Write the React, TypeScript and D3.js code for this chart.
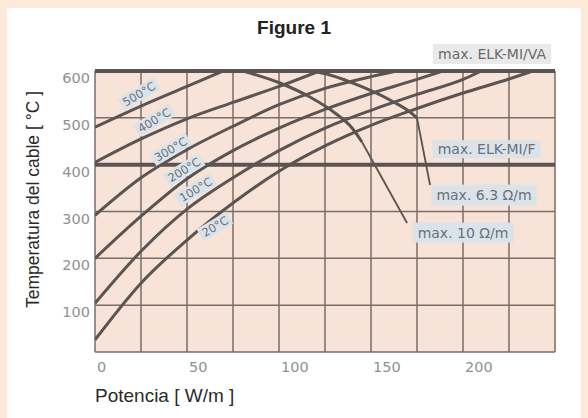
import React from "react";
import * as d3 from "d3";

// ---------- data ----------
const title = "Figure 1";
const xAxisTitle = "Potencia [ W/m ]";
const yAxisTitle = "Temperatura del cable [ °C ]";

const xTickLabels = [0, 50, 100, 150, 200];
const yTickLabels = [100, 200, 300, 400, 500, 600];
const xGridValues = [0, 25, 50, 75, 100, 125, 150, 175, 200, 225, 250];
const yGridValues = [0, 100, 200, 300, 400, 500, 600];

const curveNames = ["500°C", "400°C", "300°C", "200°C", "100°C", "20°C"];
const curve500: [number, number][] = [[0, 480], [25, 525], [50, 567], [69.6, 600]];
const curve400: [number, number][] = [[0, 405], [25, 455], [50, 498], [75, 533], [100, 567], [122, 600]];
const curve300: [number, number][] = [[0, 292], [25, 372], [50, 432], [75, 482], [100, 528], [125, 563], [150, 588], [164, 600]];
const curve200: [number, number][] = [[0, 200], [25, 290], [50, 370], [75, 430], [100, 478], [125, 518], [150, 552], [175, 582], [189, 600]];
const curve100: [number, number][] = [[0, 104], [25, 215], [50, 305], [75, 372], [100, 430], [125, 478], [150, 516], [175, 550], [200, 582], [210, 600]];
const curve20: [number, number][] = [[0, 26], [25, 147], [50, 239], [75, 318], [100, 386], [125, 440], [150, 484], [175, 520], [200, 553], [225, 583], [238, 600]];
const curveLabelPos: [number, number][] = [[23.9, 551], [32.1, 495], [41.1, 433], [48.4, 389], [54.7, 347], [65.2, 268]];

const limitNames = ["max. ELK-MI/VA", "max. ELK-MI/F", "max. 6.3 Ω/m", "max. 10 Ω/m"];
const limitVA = 600;
const limitF = 400;
const limit63: [number, number][] = [[118.5, 600], [127.7, 591.5], [144, 568], [160.3, 538], [171.2, 512.5], [175, 499.7]];
const leader63: [number, number][] = [[175, 499.7], [182.1, 356.6]];
const limit10: [number, number][] = [[80.4, 600], [100.5, 574.4], [116.8, 544.5], [130.4, 510.4], [139.7, 478.3], [145.1, 448.4]];
const leader10: [number, number][] = [[145.1, 448.4], [169.6, 275.5]];
const limitFLabelPos: [number, number] = [212.8, 433];
const limit63LabelPos: [number, number] = [211.4, 335];
const limit10LabelPos: [number, number] = [200, 255];

// ---------- layout ----------
const W = 588, H = 418;
const plot = { left: 95, right: 555, top: 71, bottom: 352 };
const x = d3.scaleLinear().domain([0, 250]).range([plot.left, plot.right]);
const y = d3.scaleLinear().domain([0, 600]).range([plot.bottom, plot.top]);

const line = d3.line<[number, number]>().x(d => x(d[0])).y(d => y(d[1])).curve(d3.curveMonotoneX);
const straight = d3.line<[number, number]>().x(d => x(d[0])).y(d => y(d[1]));

const LINE = "#5a5453";
const GRID = "#7a6d68";
const TICK = "#909090";
const TAGFILL = "#dbe3e9";
const TAGTEXT = "#66727c";
const SANS = "'DejaVu Sans', Verdana, sans-serif";
const ARIAL = "'Liberation Sans', Arial, sans-serif";

function Tag({ cx, cy, text, size, padX, h, rotate = 0, fill = TAGFILL, color = TAGTEXT }: any) {
  const ref = React.useRef<SVGTextElement>(null);
  const [w, setW] = React.useState(0);
  React.useLayoutEffect(() => {
    if (ref.current) setW(ref.current.getBBox().width);
  }, [text, size]);
  const bw = w + 2 * padX;
  return (
    <g transform={`translate(${cx},${cy}) rotate(${rotate})`}>
      {w > 0 && <rect x={-bw / 2} y={-h / 2} width={bw} height={h} fill={fill} />}
      <text ref={ref} x={0} y={size * 0.36} textAnchor="middle" fontSize={size} fill={color} fontFamily={SANS}>
        {text}
      </text>
    </g>
  );
}

export default function App() {
  const curves = [curve500, curve400, curve300, curve200, curve100, curve20];
  return (
    <div style={{ position: "absolute", left: 0, top: 0 }}>
      <svg width={W} height={H} style={{ display: "block" }}>
        <defs>
          <clipPath id="plotclip">
            <rect x={plot.left} y={plot.top} width={plot.right - plot.left} height={plot.bottom - plot.top} />
          </clipPath>
        </defs>
        {/* frame */}
        <rect x={0} y={0} width={W} height={H} fill="#fde9d7" />
        <rect x={7} y={8} width={574} height={H - 8} fill="#ffffff" />

        {/* title */}
        <text x={294} y={34} textAnchor="middle" fontSize={19} fontWeight="bold" fontFamily={ARIAL} fill="#222">
          {title}
        </text>

        {/* plot background */}
        <rect x={plot.left} y={plot.top} width={plot.right - plot.left} height={plot.bottom - plot.top} fill="#f7e3d7" />

        {/* grid */}
        {xGridValues.map(v => (
          <line key={"gx" + v} x1={x(v)} x2={x(v)} y1={plot.top} y2={plot.bottom} stroke={GRID} strokeWidth={1.5} />
        ))}
        {yGridValues.map(v => (
          <line key={"gy" + v} x1={plot.left} x2={plot.right} y1={y(v)} y2={y(v)} stroke={GRID} strokeWidth={1.5} />
        ))}

        {/* limit horizontal lines */}
        <line x1={plot.left} x2={plot.right} y1={y(limitF)} y2={y(limitF)} stroke={LINE} strokeWidth={4} />
        <line x1={plot.left} x2={plot.right} y1={y(limitVA)} y2={y(limitVA)} stroke={LINE} strokeWidth={4} />

        {/* curves */}
        <g clipPath="url(#plotclip)">
          {curves.map((c, i) => (
            <path key={"c" + i} d={line(c) || ""} fill="none" stroke={LINE} strokeWidth={3} />
          ))}
          <path d={line(limit10) || ""} fill="none" stroke={LINE} strokeWidth={3} />
          <path d={line(limit63) || ""} fill="none" stroke={LINE} strokeWidth={3} />
        </g>
        <path d={straight(leader10) || ""} fill="none" stroke={LINE} strokeWidth={1.8} />
        <path d={straight(leader63) || ""} fill="none" stroke={LINE} strokeWidth={1.8} />

        {/* curve labels */}
        {curveNames.map((n, i) => (
          <Tag key={"t" + i} cx={x(curveLabelPos[i][0])} cy={y(curveLabelPos[i][1])} text={n} size={11.5} padX={3} h={14} rotate={-31} />
        ))}

        {/* limit labels */}
        <Tag cx={x(limitFLabelPos[0])} cy={y(limitFLabelPos[1])} text={limitNames[1]} size={14} padX={5} h={18} />
        <Tag cx={x(limit63LabelPos[0])} cy={y(limit63LabelPos[1])} text={limitNames[2]} size={14} padX={5} h={21} />
        <Tag cx={x(limit10LabelPos[0])} cy={y(limit10LabelPos[1])} text={limitNames[3]} size={14} padX={5} h={20} />
        <Tag cx={plot.right - 63} cy={plot.top - 17} text={limitNames[0]} size={14} padX={5} h={20} fill="#e9e9e9" color="#6a6a6a" />

        {/* axes tick labels */}
        {yTickLabels.map(v => (
          <text key={"yl" + v} x={90} y={y(v) + 12} textAnchor="end" fontSize={14.5} fill={TICK} fontFamily={SANS}>
            {v}
          </text>
        ))}
        {xTickLabels.map(v => (
          <text key={"xl" + v} x={x(v) + 2} y={plot.bottom + 20} textAnchor="start" fontSize={14.5} fill={TICK} fontFamily={SANS}>
            {v}
          </text>
        ))}

        {/* axis titles */}
        <text x={plot.left} y={402} fontSize={19} fill="#2a2a2a" fontFamily={ARIAL}>
          {xAxisTitle}
        </text>
        <text transform={`translate(39,${(plot.top + plot.bottom) / 2 - 12}) rotate(-90)`} textAnchor="middle" fontSize={17.5} fill="#2a2a2a" fontFamily={ARIAL}>
          {yAxisTitle}
        </text>
      </svg>
    </div>
  );
}
